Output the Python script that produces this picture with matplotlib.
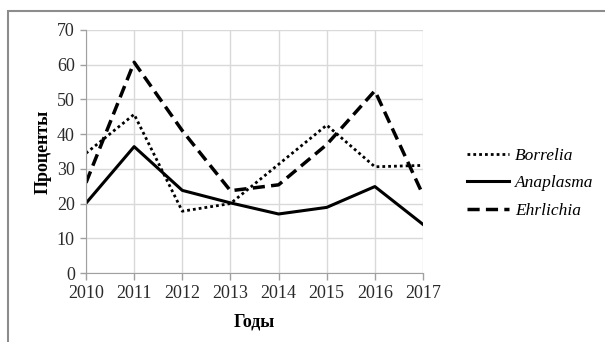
"""Line chart: share of Borrelia, Anaplasma and Ehrlichia by year."""

import matplotlib

matplotlib.use("Agg")
import matplotlib.pyplot as plt
from matplotlib.patches import Rectangle

years = [2010, 2011, 2012, 2013, 2014, 2015, 2016, 2017]
borrelia = [34.5, 45.7, 17.8, 20.0, 31.3, 42.6, 30.6, 31.0]
anaplasma = [20.1, 36.4, 23.8, 20.2, 17.0, 18.9, 24.9, 14.0]
ehrlichia = [26.0, 60.7, 41.0, 23.7, 25.4, 37.0, 52.5, 22.5]
series_names = ["Borrelia", "Anaplasma", "Ehrlichia"]

plt.rcParams["font.family"] = ["Liberation Serif", "DejaVu Serif"]

W, H = 605, 342
fig = plt.figure(figsize=(W / 100, H / 100), dpi=100)
fig.patch.set_facecolor("white")

# outer frame of the picture
fig.patches.append(Rectangle((8 / W, -0.05), 1.1, 1 - 11 / H + 0.05,
                             transform=fig.transFigure, fill=False,
                             edgecolor="#8c8c8c", linewidth=1.5))

ax = fig.add_axes([86 / W, 1 - 273 / H, (423 - 86) / W, (273 - 30) / H])
ax.plot(years, borrelia, color="black", linestyle=(0, (1, 1.1)), linewidth=2,
        label=series_names[0])
ax.plot(years, anaplasma, color="black", linestyle="-", linewidth=2.2,
        label=series_names[1])
ax.plot(years, ehrlichia, color="black", linestyle=(0, (3.5, 1.8)),
        linewidth=2.5, label=series_names[2])

ax.set_xlim(2010, 2017)
ax.set_ylim(0, 70)
ax.set_xticks(years)
ax.set_yticks(range(0, 71, 10))
ax.grid(True, color="#d9d9d9", linewidth=1)
ax.set_axisbelow(True)
for side in ("top", "right"):
    ax.spines[side].set_visible(False)
for side in ("left", "bottom"):
    ax.spines[side].set_color("#a0a0a0")
ax.tick_params(axis="both", colors="#a0a0a0", labelcolor="#2a2a2a",
               labelsize=13, length=5, width=1)
ax.tick_params(axis="y", length=4, pad=4)
ax.tick_params(axis="x", pad=4)

ax.set_xlabel("Годы", fontsize=13, fontweight="bold", labelpad=8)
ax.set_ylabel("Проценты", fontsize=13, fontweight="bold", labelpad=4)

leg = ax.legend(loc="center left", bbox_to_anchor=(1.085, 0.37),
                frameon=False, prop={"style": "italic", "size": 12.5},
                handlelength=2.4, handletextpad=0.35, labelspacing=0.65)

fig.savefig("out.png", dpi=100)
